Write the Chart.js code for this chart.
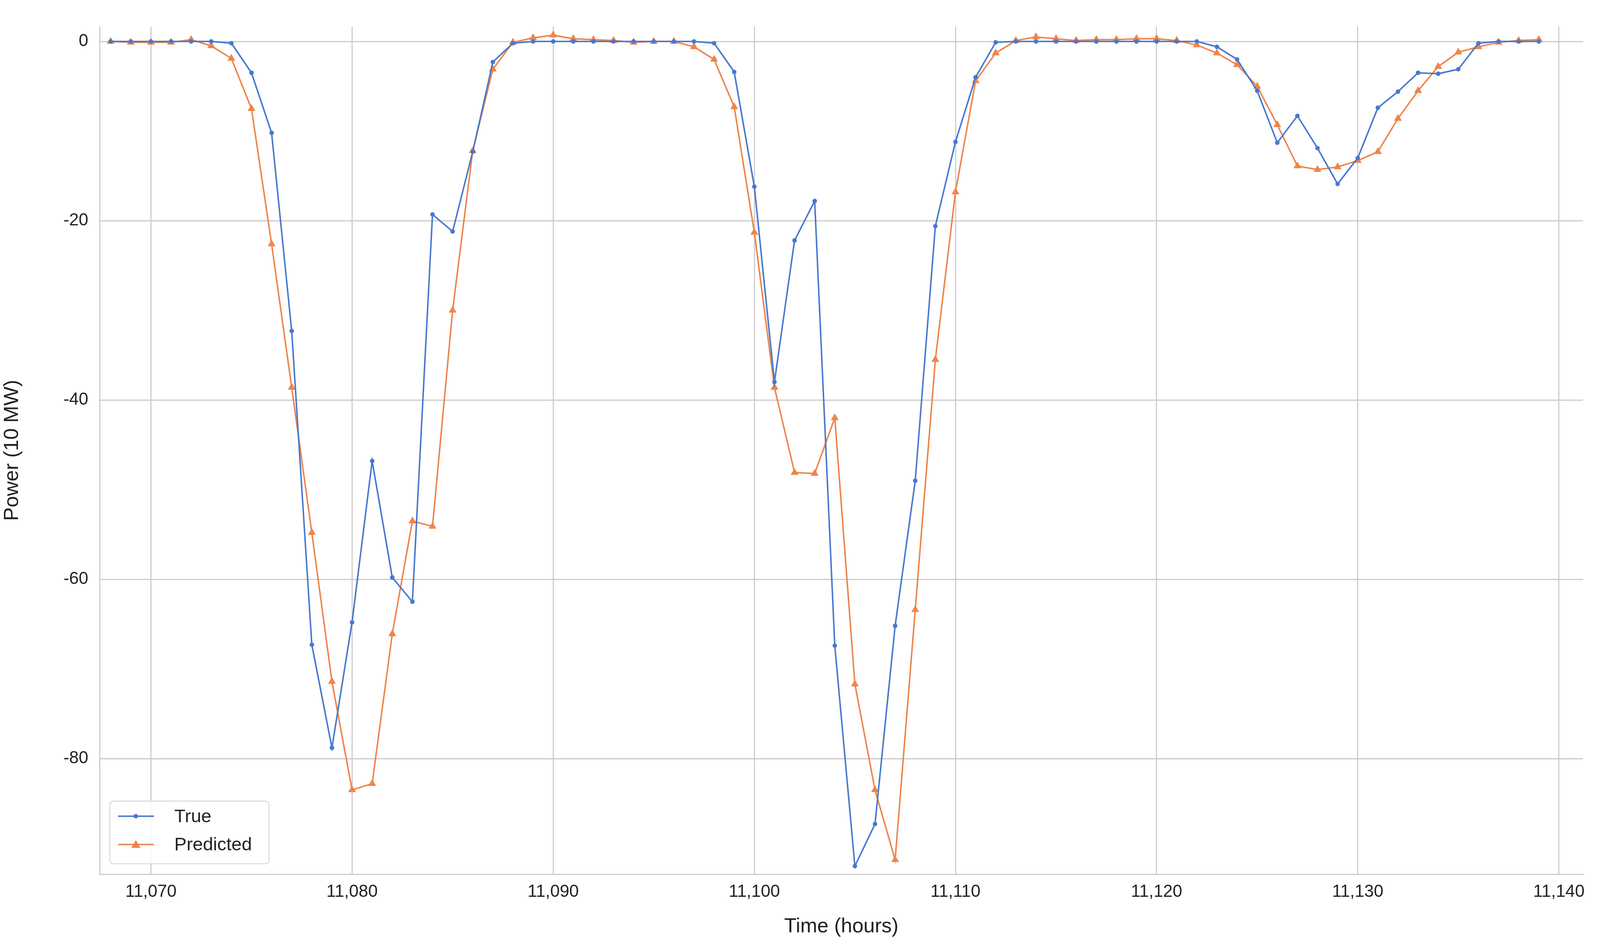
<!DOCTYPE html>
<html><head><meta charset="utf-8">
<script src="https://cdn.jsdelivr.net/npm/chart.js@4"></script>
<style>html,body{margin:0;padding:0;background:#fff;overflow:hidden}canvas{display:block}</style>
</head><body>
<canvas id="c"></canvas>
<script>
const hours = [];
for (let h = 11068; h <= 11139; h++) hours.push(h);
const trueVals = [0,0,0,0,0,0,-0.2,-3.5,-10.2,-32.3,-67.3,-78.8,-64.8,-46.8,-59.8,-62.5,-19.3,-21.2,-12.3,-2.3,-0.2,0,0,0,0,0,0,0,0,0,-0.2,-3.4,-16.2,-38.0,-22.2,-17.8,-67.4,-92.0,-87.3,-65.2,-49.0,-20.6,-11.2,-4.0,-0.1,0,0,0,0,0,0,0,0,0,0,-0.6,-2.0,-5.5,-11.3,-8.3,-11.9,-15.9,-13.0,-7.4,-5.6,-3.5,-3.6,-3.1,-0.2,0,0,0];
const predVals = [0,-0.1,-0.1,-0.1,0.2,-0.5,-1.9,-7.5,-22.6,-38.6,-54.8,-71.4,-83.5,-82.8,-66.1,-53.5,-54.1,-30.0,-12.2,-3.1,-0.1,0.4,0.7,0.3,0.2,0.1,-0.1,0,0,-0.6,-2.0,-7.3,-21.3,-38.6,-48.1,-48.2,-42.0,-71.7,-83.5,-91.3,-63.4,-35.5,-16.8,-4.4,-1.3,0.1,0.5,0.3,0.1,0.2,0.2,0.3,0.3,0.1,-0.4,-1.3,-2.6,-5.0,-9.3,-13.9,-14.3,-14.0,-13.3,-12.3,-8.6,-5.5,-2.8,-1.2,-0.6,-0.1,0.1,0.2];
const xTicks = [11070,11080,11090,11100,11110,11120,11130,11140];
const yTicks = [0,-20,-40,-60,-80];
const seriesNames = ['True','Predicted'];
const BLUE = '#4878d0', ORANGE = '#ee854a';
const FONT = "'Liberation Sans', Arial, sans-serif";

const W = window.innerWidth || 4240, H = window.innerHeight || 2404;
const SX = W / 4240, SY = H / 2404, S = Math.min(SX, SY);
const cv = document.getElementById('c');
cv.width = W; cv.height = H;

const legendPlugin = {
  id: 'innerLegend',
  afterDraw(chart) {
    const ctx = chart.ctx;
    const x0 = 291 * SX, y0 = 2051 * SY, w = 422 * S, h = 166 * S;
    ctx.save();
    ctx.fillStyle = 'rgba(255,255,255,0.85)';
    ctx.strokeStyle = '#dddddd';
    ctx.lineWidth = 3 * S;
    ctx.beginPath();
    ctx.roundRect(x0, y0, w, h, 10 * S);
    ctx.fill(); ctx.stroke();
    const rows = [[BLUE, 'circle'], [ORANGE, 'triangle']];
    rows.forEach((r, i) => {
      const y = y0 + (40 + i * 75) * S;
      const lx = x0 + 22 * S, cx = x0 + 69 * S;
      ctx.strokeStyle = r[0]; ctx.lineWidth = 4 * S;
      ctx.beginPath(); ctx.moveTo(lx, y); ctx.lineTo(lx + 95 * S, y); ctx.stroke();
      ctx.fillStyle = r[0];
      ctx.beginPath();
      if (r[1] === 'circle') ctx.arc(cx, y, 6 * S, 0, Math.PI * 2);
      else { ctx.moveTo(cx, y - 12 * S); ctx.lineTo(cx + 12 * S, y + 9 * S); ctx.lineTo(cx - 12 * S, y + 9 * S); ctx.closePath(); }
      ctx.fill();
      ctx.fillStyle = '#222'; ctx.font = Math.round(49 * S) + 'px ' + FONT; ctx.textBaseline = 'middle';
      ctx.fillText(seriesNames[i], x0 + 171 * S, y + 2 * S);
    });
    ctx.restore();
  }
};

new Chart(cv, {
  type: 'line',
  data: {
    datasets: [
      { label: seriesNames[0], data: hours.map((h, i) => ({x: h, y: trueVals[i]})),
        borderColor: BLUE, backgroundColor: BLUE, borderWidth: 4 * S, pointStyle: 'circle',
        pointRadius: 6 * S, pointBorderWidth: 0, tension: 0 },
      { label: seriesNames[1], data: hours.map((h, i) => ({x: h, y: predVals[i]})),
        borderColor: ORANGE, backgroundColor: ORANGE, borderWidth: 4 * S, pointStyle: 'triangle',
        pointRadius: 12 * S, pointBorderWidth: 0, tension: 0 }
    ]
  },
  options: {
    responsive: false, animation: false, devicePixelRatio: 1,
    layout: { padding: { top: 68 * SY, right: 45 * SX, left: 0, bottom: 0 } },
    plugins: { legend: { display: false }, tooltip: { enabled: false } },
    scales: {
      x: {
        type: 'linear', min: 11067.45, max: 11141.2,
        afterBuildTicks: s => { s.ticks = xTicks.map(v => ({value: v})); },
        afterFit: s => { s.height = 166 * SY; },
        grid: { color: '#cccccc', lineWidth: 3 * S, drawTicks: false },
        border: { color: '#cccccc', width: 3 * S },
        ticks: { color: '#222', font: { size: Math.round(46 * S), family: FONT }, padding: 20 * S,
                 maxRotation: 0, callback: v => v.toLocaleString('en-US') },
        title: { display: true, text: 'Time (hours)', color: '#222',
                 font: { size: Math.round(54 * S), family: FONT }, padding: { top: 0, bottom: 0 } }
      },
      y: {
        min: -92.9, max: 1.66,
        afterBuildTicks: s => { s.ticks = yTicks.map(v => ({value: v})); },
        afterFit: s => { s.width = 264 * SX; },
        grid: { color: '#cccccc', lineWidth: 3 * S, drawTicks: false },
        border: { color: '#cccccc', width: 3 * S },
        ticks: { color: '#222', font: { size: Math.round(46 * S), family: FONT }, padding: 30 * S },
        title: { display: true, text: 'Power (10 MW)', color: '#222',
                 font: { size: Math.round(54 * S), family: FONT }, padding: { top: 0, bottom: 10 * S } }
      }
    }
  },
  plugins: [legendPlugin]
});
</script>
</body></html>
